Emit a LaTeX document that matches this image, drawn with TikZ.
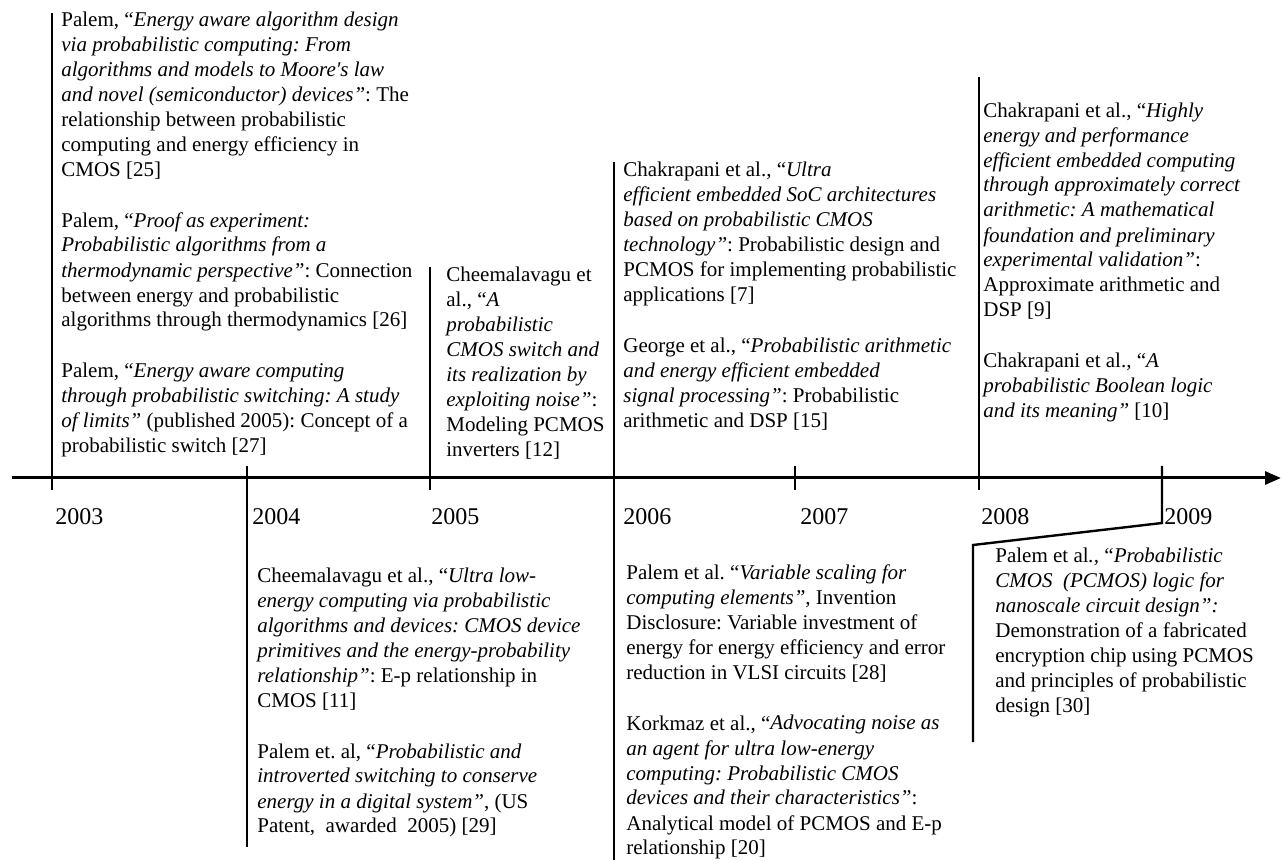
\documentclass[tikz,border=0pt]{standalone}
\usepackage{fontspec}
\setmainfont{Liberation Serif}
\usetikzlibrary{arrows.meta}
\frenchspacing

\begin{document}
\begin{tikzpicture}[
  x=0.5pt, y=-0.5pt,
  entry/.style={anchor=base west, align=left, inner sep=0pt, font=\fontsize{10.5}{12.5}\selectfont},
  yearlabel/.style={anchor=base west, inner sep=0pt, font=\fontsize{12}{14}\selectfont},
  stem/.style={line width=1.2pt},
  axis/.style={line width=1.5pt, -{Triangle[length=8pt,width=6.5pt]}}
  ]
  \useasboundingbox (0,0) rectangle (1282,861);

  % time axis
  \coordinate (start) at (12,478);
  \coordinate (end) at (1281,478);
  \draw[axis] (start) -- (end);

  % year stems and labels
  \foreach \yr/\x/\ya/\yb/\lx in {2003/52/13/490/55, 2004/247/466/847/252,
      2005/430/267/490/431, 2006/614/162/860/623, 2007/795/466/490/800,
      2008/979/77/490/981}{
    \coordinate (top\yr) at (\x,\ya);
    \coordinate (bot\yr) at (\x,\yb);
    \draw[stem] (top\yr) -- (bot\yr);
    \node[yearlabel] (y\yr) at (\lx,525) {\yr};
  }
  % 2009 has a bent stem
  \coordinate (top2009) at (1162,466);
  \coordinate (knee2009) at (1162,523);
  \coordinate (bend2009) at (973,545);
  \coordinate (bot2009) at (973,742);
  \draw[stem] (top2009) -- (knee2009) -- (bend2009) -- (bot2009);
  \node[yearlabel] (y2009) at (1164,525) {2009};

  % entries above the axis (placed by their last baseline)
  \node[entry] (e2003) at (61,453) {Palem, “\textit{Energy aware algorithm design}\\
    \textit{via probabilistic computing: From}\\
    \textit{algorithms and models to Moore\textquotesingle s law}\\
    \textit{and novel (semiconductor) devices”}: The\\
    relationship between probabilistic\\
    computing and energy efficiency in\\
    CMOS [25]\\[13pt]
    Palem, “\textit{Proof as experiment:}\\
    \textit{Probabilistic algorithms from a}\\
    \textit{thermodynamic perspective”}: Connection\\
    between energy and probabilistic\\
    algorithms through thermodynamics [26]\\[13pt]
    Palem, “\textit{Energy aware computing}\\
    \textit{through probabilistic switching: A study}\\
    \textit{of limits”} (published 2005): Concept of a\\
    probabilistic switch [27]};

  \node[entry] (e2005) at (446,457) {Cheemalavagu et\\
    al., “\textit{A}\\
    \textit{probabilistic}\\
    \textit{CMOS switch and}\\
    \textit{its realization by}\\
    \textit{exploiting noise”}:\\
    Modeling PCMOS\\
    inverters [12]};

  \node[entry] (e2006) at (623,428) {Chakrapani et al., “\textit{Ultra}\\
    \textit{efficient embedded SoC architectures}\\
    \textit{based on probabilistic CMOS}\\
    \textit{technology”}: Probabilistic design and\\
    PCMOS for implementing probabilistic\\
    applications [7]\\[13pt]
    George et al., “\textit{Probabilistic arithmetic}\\
    \textit{and energy efficient embedded}\\
    \textit{signal processing”}: Probabilistic\\
    arithmetic and DSP [15]};

  \node[entry] (e2008) at (983,418) {Chakrapani et al., “\textit{Highly}\\
    \textit{energy and performance}\\
    \textit{efficient embedded computing}\\
    \textit{through approximately correct}\\
    \textit{arithmetic: A mathematical}\\
    \textit{foundation and preliminary}\\
    \textit{experimental validation”}:\\
    Approximate arithmetic and\\
    DSP [9]\\[13pt]
    Chakrapani et al., “\textit{A}\\
    \textit{probabilistic Boolean logic}\\
    \textit{and its meaning”} [10]};

  % entries below the axis
  \node[entry] (e2004) at (257,833) {Cheemalavagu et al., “\textit{Ultra low-}\\
    \textit{energy computing via probabilistic}\\
    \textit{algorithms and devices: CMOS device}\\
    \textit{primitives and the energy-probability}\\
    \textit{relationship”}: E-p relationship in\\
    CMOS [11]\\[13pt]
    Palem et. al, “\textit{Probabilistic and}\\
    \textit{introverted switching to conserve}\\
    \textit{energy in a digital system”}, (US\\
    Patent,\ \ awarded\ \ 2005) [29]};

  \node[entry] (e2007) at (626,855) {Palem et al. “\textit{Variable scaling for}\\
    \textit{computing elements”}, Invention\\
    Disclosure: Variable investment of\\
    energy for energy efficiency and error\\
    reduction in VLSI circuits [28]\\[13pt]
    Korkmaz et al., “\textit{Advocating noise as}\\
    \textit{an agent for ultra low-energy}\\
    \textit{computing: Probabilistic CMOS}\\
    \textit{devices and their characteristics”}:\\
    Analytical model of PCMOS and E-p\\
    relationship [20]};

  \node[entry] (e2009) at (995,712) {Palem et al\textit{.,} “\textit{Probabilistic}\\
    \textit{CMOS\ \ (PCMOS) logic for}\\
    \textit{nanoscale circuit design”:}\\
    Demonstration of a fabricated\\
    encryption chip using PCMOS\\
    and principles of probabilistic\\
    design [30]};
\end{tikzpicture}
\end{document}
